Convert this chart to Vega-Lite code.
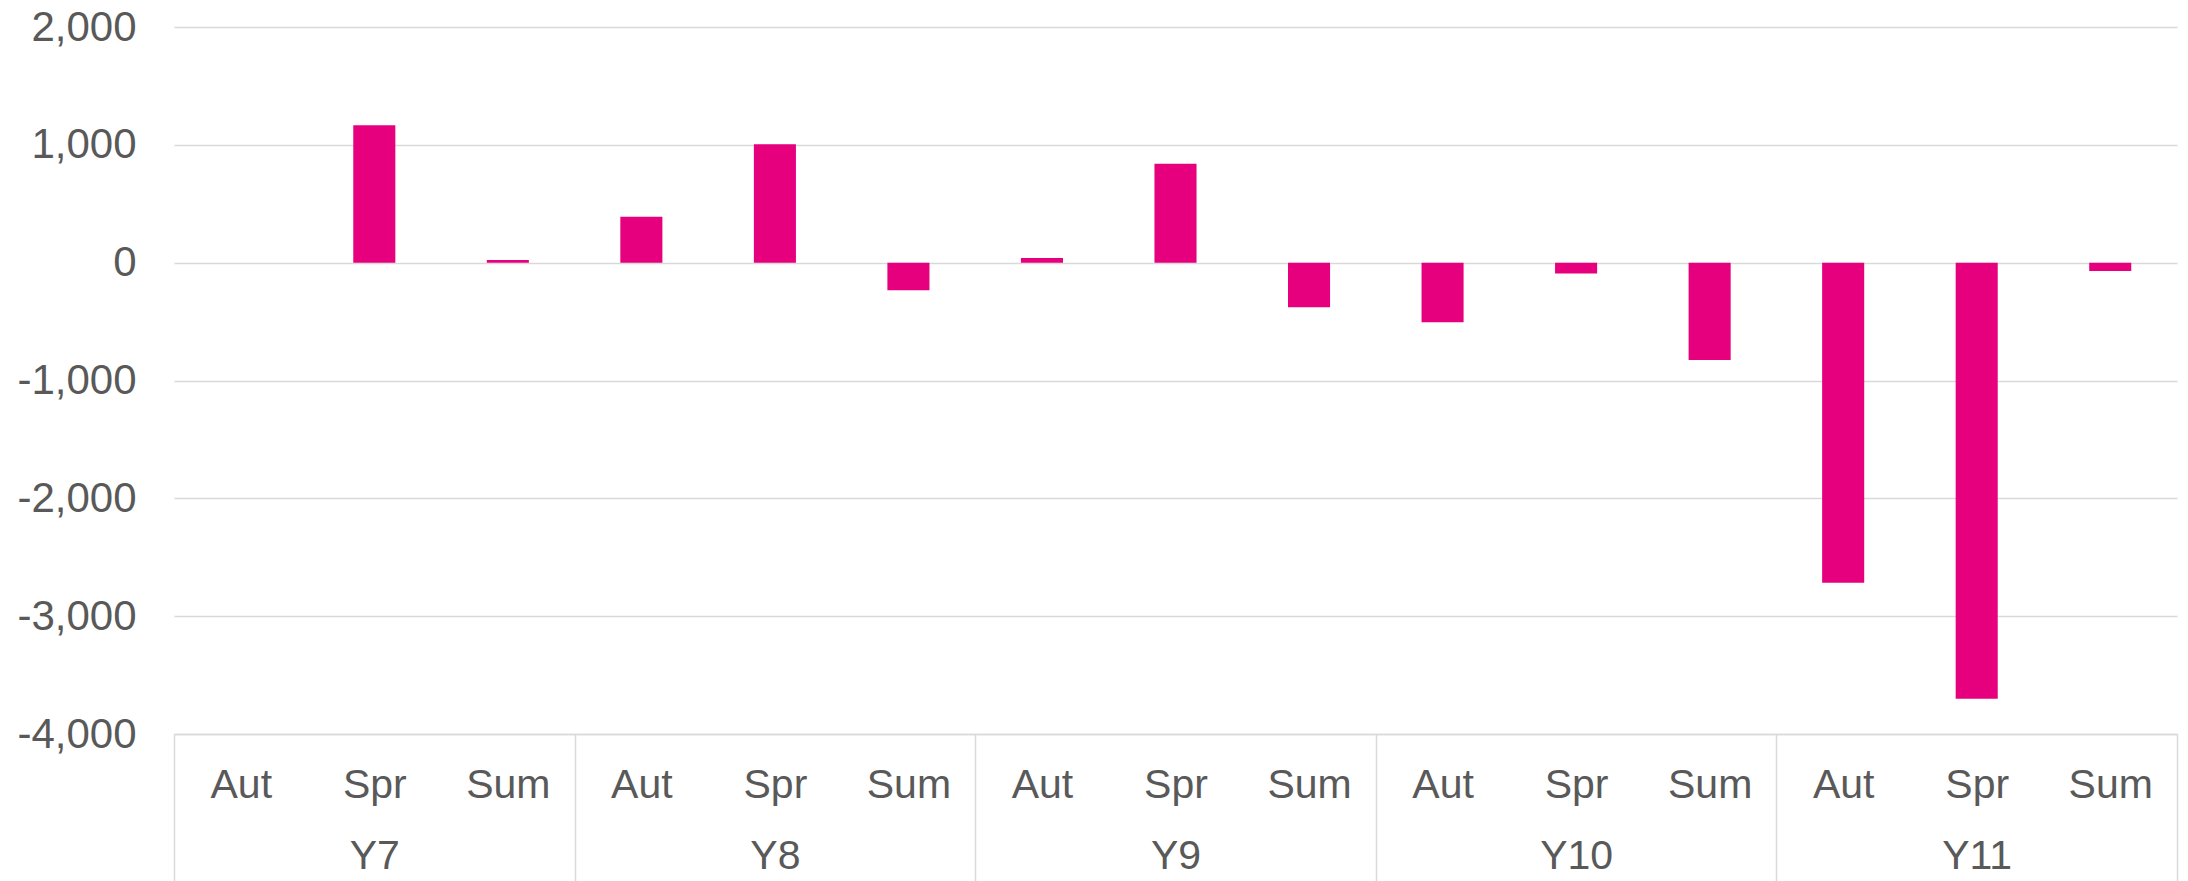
{
  "$schema": "https://vega.github.io/schema/vega-lite/v6.json",
  "width": 2003,
  "height": 707,
  "autosize": {"type": "none"},
  "padding": {"left": 174, "top": 27, "right": 11, "bottom": 147},
  "background": "white",
  "config": {"view": {"stroke": null}, "font": "Liberation Sans"},
  "data": {
    "values": [
      {"key": "Y7|Aut", "year": "Y7", "season": "Aut", "value": 0},
      {"key": "Y7|Spr", "year": "Y7", "season": "Spr", "value": 1166},
      {"key": "Y7|Sum", "year": "Y7", "season": "Sum", "value": 23},
      {"key": "Y8|Aut", "year": "Y8", "season": "Aut", "value": 390},
      {"key": "Y8|Spr", "year": "Y8", "season": "Spr", "value": 1005},
      {"key": "Y8|Sum", "year": "Y8", "season": "Sum", "value": -234},
      {"key": "Y9|Aut", "year": "Y9", "season": "Aut", "value": 40},
      {"key": "Y9|Spr", "year": "Y9", "season": "Spr", "value": 840},
      {"key": "Y9|Sum", "year": "Y9", "season": "Sum", "value": -379},
      {"key": "Y10|Aut", "year": "Y10", "season": "Aut", "value": -506},
      {"key": "Y10|Spr", "year": "Y10", "season": "Spr", "value": -92},
      {"key": "Y10|Sum", "year": "Y10", "season": "Sum", "value": -827},
      {"key": "Y11|Aut", "year": "Y11", "season": "Aut", "value": -2717},
      {"key": "Y11|Spr", "year": "Y11", "season": "Spr", "value": -3700},
      {"key": "Y11|Sum", "year": "Y11", "season": "Sum", "value": -70}
    ]
  },
  "mark": {"type": "bar", "color": "#E6007E", "width": {"band": 0.315}},
  "encoding": {
    "x": {
      "field": "key",
      "type": "nominal",
      "sort": null,
      "scale": {"paddingInner": 0, "paddingOuter": 0},
      "axis": {
        "title": null,
        "grid": false,
        "domain": true,
        "domainColor": "#d9d9d9",
        "domainWidth": 1.5,
        "ticks": true,
        "tickBand": "extent",
        "tickSize": 147,
        "tickWidth": 1.5,
        "tickColor": {"condition": {"test": "datum.index < 0 || indexof(datum.value, 'Sum') >= 0", "value": "#d9d9d9"}, "value": "transparent"},
        "labelExpr": "datum.value ? (split(datum.value, '|')[1] == 'Spr' ? ['Spr', split(datum.value, '|')[0]] : split(datum.value, '|')[1]) : ''",
        "labelFont": "Liberation Sans",
        "labelFontSize": 41,
        "labelColor": "#595959",
        "labelAngle": 0,
        "labelBaseline": "top",
        "labelPadding": -116,
        "labelLineHeight": 71,
        "labelOverlap": false,
        "labelBound": false,
        "labelFlush": false
      }
    },
    "y": {
      "field": "value",
      "type": "quantitative",
      "scale": {"domain": [-4000, 2000], "nice": false, "zero": true},
      "axis": {
        "title": null,
        "domain": false,
        "ticks": false,
        "tickSize": 0,
        "values": [-4000, -3000, -2000, -1000, 0, 1000, 2000],
        "labelExpr": "(datum.value < 0 ? '-' : '') + format(abs(datum.value), ',')",
        "labelFont": "Liberation Sans",
        "labelFontSize": 42,
        "labelColor": "#595959",
        "labelPadding": 38,
        "grid": true,
        "gridColor": "#d9d9d9",
        "gridWidth": 1.5
      }
    }
  }
}
